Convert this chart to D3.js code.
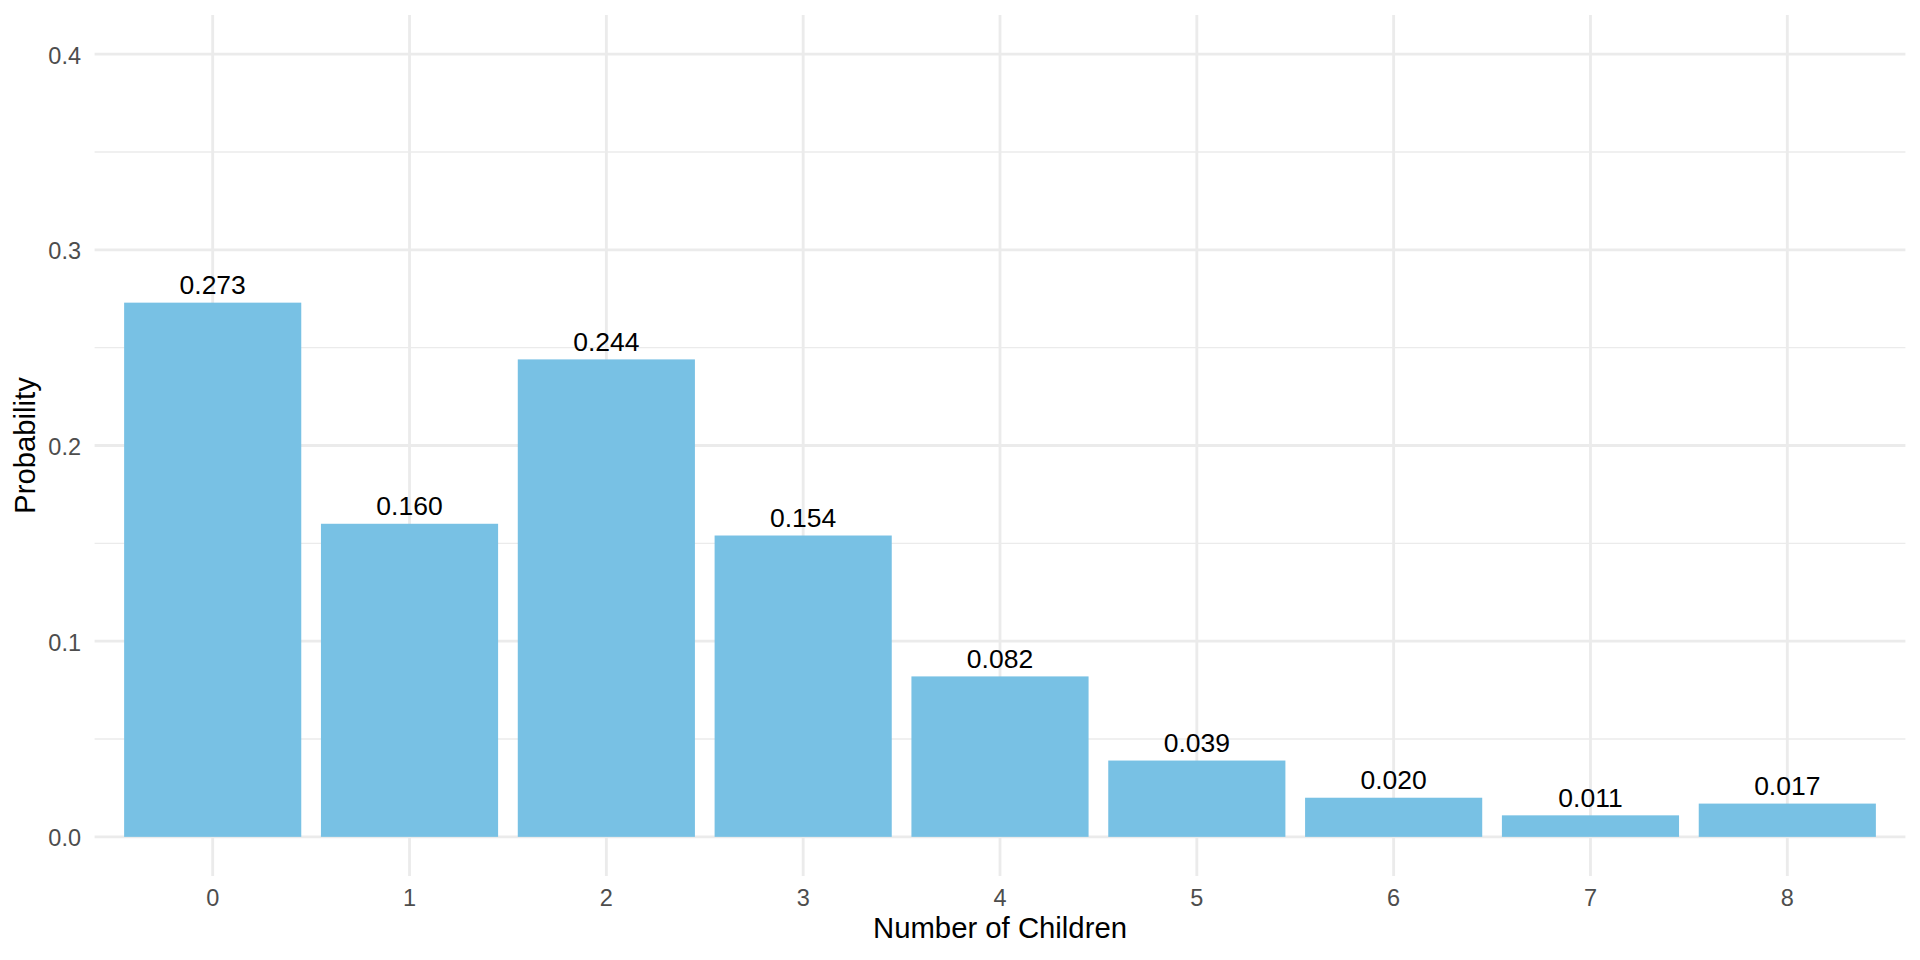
<!DOCTYPE html>
<html>
<head>
<meta charset="utf-8">
<script src="https://cdn.jsdelivr.net/npm/d3@7"></script>
<style>
  html, body { margin: 0; padding: 0; background: #ffffff; }
  svg { display: block; }
</style>
</head>
<body>
<svg id="chart" width="1920" height="960"></svg>
<script>
const categories = ["0", "1", "2", "3", "4", "5", "6", "7", "8"];
const probabilities = [0.273, 0.160, 0.244, 0.154, 0.082, 0.039, 0.020, 0.011, 0.017];
const yMajorTicks = [0, 0.1, 0.2, 0.3, 0.4];
const yMinorTicks = [0.05, 0.15, 0.25, 0.35];
const xTitle = "Number of Children";
const yTitle = "Probability";

const data = categories.map((c, i) => ({ cat: c, p: probabilities[i] }));

const W = 1920, H = 960;
const panel = { left: 94.6, right: 1905.4, top: 15, bottom: 876 };
const font = "'Liberation Sans', Arial, Helvetica, sans-serif";

const svg = d3.select("#chart");

const x = d3.scaleBand()
  .domain(categories)
  .range([panel.left, panel.right])
  .paddingInner(0.1)
  .paddingOuter(0.15);

const y = d3.scaleLinear()
  .domain([-0.02, 0.42])
  .range([panel.bottom, panel.top]);

const grid = svg.append("g");

// minor horizontal gridlines
grid.selectAll("line.minor").data(yMinorTicks).join("line")
  .attr("class", "minor")
  .attr("x1", panel.left).attr("x2", panel.right)
  .attr("y1", d => y(d)).attr("y2", d => y(d))
  .attr("stroke", "#EBEBEB").attr("stroke-width", 1.42);

// major horizontal gridlines
grid.selectAll("line.major").data(yMajorTicks).join("line")
  .attr("class", "major")
  .attr("x1", panel.left).attr("x2", panel.right)
  .attr("y1", d => y(d)).attr("y2", d => y(d))
  .attr("stroke", "#EBEBEB").attr("stroke-width", 2.84);

// vertical major gridlines
grid.selectAll("line.vmajor").data(categories).join("line")
  .attr("class", "vmajor")
  .attr("x1", d => x(d) + x.bandwidth() / 2).attr("x2", d => x(d) + x.bandwidth() / 2)
  .attr("y1", panel.top).attr("y2", panel.bottom)
  .attr("stroke", "#EBEBEB").attr("stroke-width", 2.84);

// bars
svg.append("g").selectAll("rect").data(data).join("rect")
  .attr("x", d => x(d.cat))
  .attr("width", x.bandwidth())
  .attr("y", d => y(d.p))
  .attr("height", d => y(0) - y(d.p))
  .attr("fill", "#78C1E4");

// value labels
svg.append("g").selectAll("text").data(data).join("text")
  .attr("x", d => x(d.cat) + x.bandwidth() / 2)
  .attr("y", d => y(d.p) - 8.5)
  .attr("text-anchor", "middle")
  .attr("font-family", font)
  .attr("font-size", 26.5)
  .attr("fill", "#000000")
  .text(d => d3.format(".3f")(d.p));

// y tick labels
svg.append("g").selectAll("text").data(yMajorTicks).join("text")
  .attr("x", 81)
  .attr("y", d => y(d) + 9.5)
  .attr("text-anchor", "end")
  .attr("font-family", font)
  .attr("font-size", 23.5)
  .attr("fill", "#4D4D4D")
  .text(d => d3.format(".1f")(d));

// x tick labels
svg.append("g").selectAll("text").data(categories).join("text")
  .attr("x", d => x(d) + x.bandwidth() / 2)
  .attr("y", 906)
  .attr("text-anchor", "middle")
  .attr("font-family", font)
  .attr("font-size", 23.5)
  .attr("fill", "#4D4D4D")
  .text(d => d);

// axis titles
svg.append("text")
  .attr("x", (panel.left + panel.right) / 2)
  .attr("y", 938)
  .attr("text-anchor", "middle")
  .attr("font-family", font)
  .attr("font-size", 29.3)
  .attr("fill", "#000000")
  .text(xTitle);

svg.append("text")
  .attr("transform", `translate(35,${(panel.top + panel.bottom) / 2}) rotate(-90)`)
  .attr("text-anchor", "middle")
  .attr("font-family", font)
  .attr("font-size", 29.3)
  .attr("fill", "#000000")
  .text(yTitle);
</script>
</body>
</html>
